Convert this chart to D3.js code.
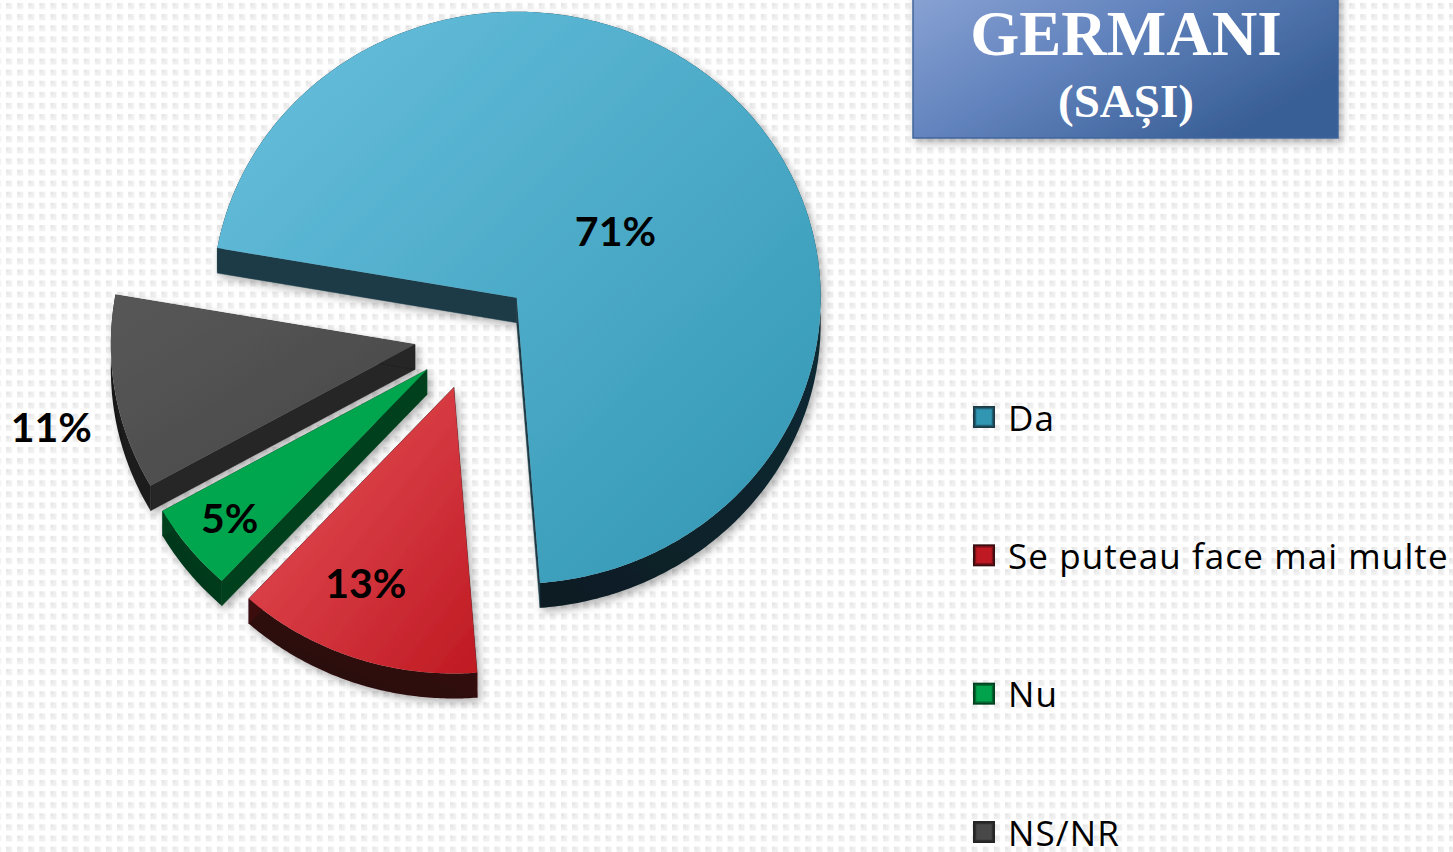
<!DOCTYPE html>
<html>
<head>
<meta charset="utf-8">
<script src="https://cdn.jsdelivr.net/npm/d3@7"></script>
<style>
  html, body { margin: 0; padding: 0; background: #fff; overflow: hidden; }
  svg { display: block; }
</style>
</head>
<body>
<svg id="chart" width="1453" height="852"></svg>
<script>
// ---------- DATA ----------
const categories = ["Da", "Se puteau face mai multe", "Nu", "NS/NR"];
const values = [71, 13, 5, 11];
const valueLabels = ["71%", "13%", "5%", "11%"];
const titleLines = ["GERMANI", "(SAȘI)"];

// ---------- STYLE ----------
const topLight = ["#68c0de", "#e9545b", "#00a94f", "#575757"];
const topDark  = ["#3196b2", "#bf1a23", "#00a24c", "#484848"];
const sideRadial = ["#1d3b47", "#3a0d10", "#00401f", "#252525"];
const sideArcLight = ["#14323d", "#3a0d10", "#00401f", "#262626"];
const sideArcDark  = ["#071419", "#250709", "#00331a", "#141414"];
const labelFrac  = [0.40, 0.74, 0.83, 1.23];
const labelShiftDeg = [6.5, 4, 0, -3.7];

const W = 1453, H = 852;
const svg = d3.select("#chart");
const defs = svg.append("defs");

// background dotted pattern
const pat = defs.append("pattern").attr("id", "dots")
  .attr("patternUnits", "userSpaceOnUse")
  .attr("x", 6).attr("y", 3).attr("width", 11.1).attr("height", 11.1);
pat.append("rect").attr("width", 6).attr("height", 6).attr("fill", "#efefef");
pat.append("rect").attr("width", 3).attr("height", 3).attr("fill", "#e7e7e7");
svg.append("rect").attr("width", W).attr("height", H).attr("fill", "#fff");
svg.append("rect").attr("width", W).attr("height", H).attr("fill", "url(#dots)");

// filters
const sh = defs.append("filter").attr("id", "shadow")
  .attr("x", "-20%").attr("y", "-20%").attr("width", "140%").attr("height", "140%");
sh.append("feDropShadow").attr("dx", 3).attr("dy", 4).attr("stdDeviation", 4)
  .attr("flood-color", "#000").attr("flood-opacity", 0.3);

// gradients for slice tops and sides
categories.forEach((c, i) => {
  const g = defs.append("linearGradient").attr("id", "top" + i)
    .attr("x1", "0%").attr("y1", "0%").attr("x2", "100%").attr("y2", "100%");
  g.append("stop").attr("offset", "0%").attr("stop-color", topLight[i]);
  g.append("stop").attr("offset", "100%").attr("stop-color", topDark[i]);
  const s = defs.append("linearGradient").attr("id", "side" + i)
    .attr("x1", "100%").attr("y1", "0%").attr("x2", "0%").attr("y2", "100%");
  s.append("stop").attr("offset", "0%").attr("stop-color", sideArcLight[i]);
  s.append("stop").attr("offset", "100%").attr("stop-color", sideArcDark[i]);
});

// ---------- PIE GEOMETRY ----------
const cx = 473, cy = 335, rx = 304, ry = 286, depth = 25, explode = 59;
const start = -80 * Math.PI / 180;
const pie = d3.pie().sort(null).value(d => d)
  .startAngle(start).endAngle(start + 2 * Math.PI);
const arcs = pie(values);
const yScale = ry / rx;

function pt(ox, oy, a, r) {
  return [ox + r * Math.sin(a), oy - r * yScale * Math.cos(a)];
}

const slices = arcs.map((a, i) => {
  const mid = (a.startAngle + a.endAngle) / 2;
  const [vx, vy] = pt(cx, cy, mid, explode);
  const n = Math.max(8, Math.ceil((a.endAngle - a.startAngle) / 0.01));
  const arcPts = d3.range(n + 1).map(k => {
    const t = a.startAngle + (a.endAngle - a.startAngle) * k / n;
    return pt(vx, vy, t, rx);
  });
  return { i, a, mid, vx, vy, arcPts };
});

const line = d3.line();
const order = slices.slice().sort((p, q) => p.vy - q.vy);
const gPie = svg.append("g");
order.forEach(s => {
  const g = gPie.append("g").attr("filter", "url(#shadow)");
  const c = [s.vx, s.vy];
  const poly = [c, ...s.arcPts];
  const down = p => [p[0], p[1] + depth];
  // outer curved wall (single band)
  const band = [...s.arcPts, ...s.arcPts.slice().reverse().map(down)];
  g.append("path").attr("d", line(band) + "Z")
    .attr("fill", `url(#side${s.i})`);
  // radial side walls
  [s.arcPts[0], s.arcPts[s.arcPts.length - 1]].forEach(p => {
    g.append("path").attr("d", line([c, p, down(p), down(c)]) + "Z")
      .attr("fill", sideRadial[s.i]).attr("stroke", sideRadial[s.i]).attr("stroke-width", 0.5);
  });
  // top face
  g.append("path").attr("d", line(poly) + "Z")
    .attr("fill", `url(#top${s.i})`);
});

// value labels
slices.forEach(s => {
  const ang = s.mid + labelShiftDeg[s.i] * Math.PI / 180;
  const [lx, ly] = pt(s.vx, s.vy, ang, rx * labelFrac[s.i]);
  svg.append("text").attr("x", lx).attr("y", ly)
    .attr("text-anchor", "middle").attr("dominant-baseline", "central")
    .attr("font-family", "Lato, 'Open Sans', sans-serif")
    .attr("font-weight", 700).attr("font-size", 41).attr("fill", "#000")
    .text(valueLabels[s.i]);
});

// ---------- LEGEND ----------
const legendY = d3.scalePoint().domain(categories).range([417, 832]);
const lg = svg.append("g");
categories.forEach((c, i) => {
  const y = legendY(c);
  lg.append("rect").attr("x", 973).attr("y", y - 11).attr("width", 22).attr("height", 22)
    .attr("fill", sideRadial[i]);
  lg.append("rect").attr("x", 975.5).attr("y", y - 8.5).attr("width", 17).attr("height", 17)
    .attr("fill", topDark[i]).attr("stroke", d3.color(topDark[i]).darker(1.2)).attr("stroke-width", 1.5);
  lg.append("text").attr("x", 1008).attr("y", y).attr("dominant-baseline", "central")
    .attr("font-family", "'Open Sans', Lato, sans-serif").attr("font-size", 35)
    .attr("letter-spacing", 1.1)
    .attr("fill", "#000").text(c);
});

// ---------- TITLE BOX ----------
const tg = defs.append("linearGradient").attr("id", "titleGrad")
  .attr("x1", "0%").attr("y1", "0%").attr("x2", "100%").attr("y2", "60%");
tg.append("stop").attr("offset", "0%").attr("stop-color", "#8aa3d4");
tg.append("stop").attr("offset", "45%").attr("stop-color", "#6384be");
tg.append("stop").attr("offset", "100%").attr("stop-color", "#385e96");
svg.append("rect").attr("x", 913).attr("y", -10).attr("width", 425).attr("height", 148)
  .attr("fill", "url(#titleGrad)").attr("stroke", "#41659c").attr("stroke-width", 1.5)
  .attr("filter", "url(#shadow)");
svg.append("text").attr("x", 1126).attr("y", 55).attr("text-anchor", "middle")
  .attr("font-family", "'Liberation Serif', 'Times New Roman', serif").attr("font-weight", 700)
  .attr("font-size", 63).attr("fill", "#fff").text(titleLines[0]);
svg.append("text").attr("x", 1126).attr("y", 117).attr("text-anchor", "middle")
  .attr("font-family", "'Liberation Serif', 'Times New Roman', serif").attr("font-weight", 700)
  .attr("font-size", 47).attr("fill", "#fff").text(titleLines[1]);
</script>
</body>
</html>
